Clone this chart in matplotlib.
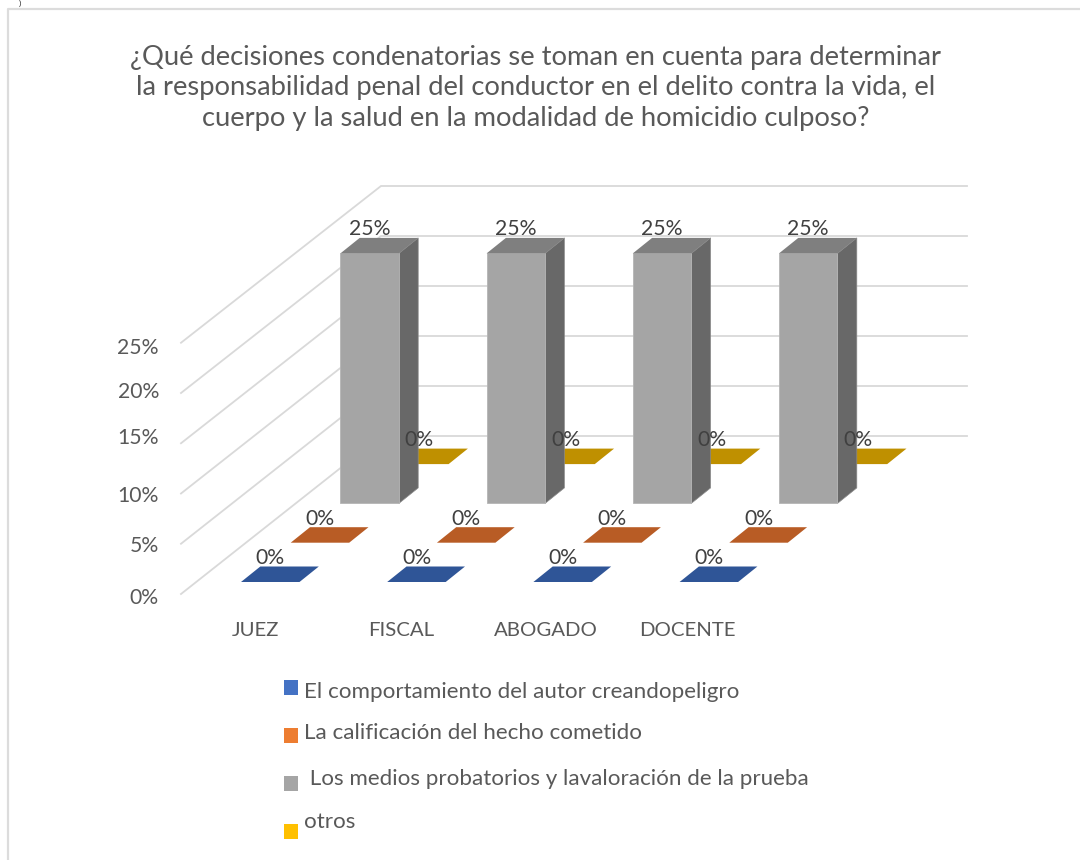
import matplotlib
matplotlib.use("Agg")
import matplotlib.pyplot as plt
from matplotlib.patches import Polygon, Rectangle

categories = ["JUEZ", "FISCAL", "ABOGADO", "DOCENTE"]
series_names = ["El comportamiento del autor creandopeligro",
                "La calificación del hecho cometido",
                " Los medios probatorios y lavaloración de la prueba",
                "otros"]
comportamiento = [0, 0, 0, 0]
calificacion = [0, 0, 0, 0]
medios = [25, 25, 25, 25]
otros = [0, 0, 0, 0]
all_series = [comportamiento, calificacion, medios, otros]
y_ticks = [0, 5, 10, 15, 20, 25]
title = ("¿Qué decisiones condenatorias se toman en cuenta para determinar\n"
         "la responsabilidad penal del conductor en el delito contra la vida, el\n"
         "cuerpo y la salud en la modalidad de homicidio culposo?")

# styles
FONT = "Lato"
front_cols = ["#2F5597", "#B85C25", "#A5A5A5", "#BF9000"]
side_cols = ["#26477E", "#9A4C1E", "#686868", "#9F7800"]
top_cols = ["#2F5597", "#B85C25", "#7F7F7F", "#BF9000"]
legend_cols = ["#4472C4", "#ED7D31", "#A5A5A5", "#FFC000"]
GRID = "#D9D9D9"
TXT = "#595959"
LBL = "#404040"

# oblique projection: (category, series, value) -> pixel position
X0, Y0 = 241.0, 582.0
CAT_STEP, SER_DX, SER_DY = 146.2, 49.7, -39.3
BAR_W, DEPTH_X, DEPTH_Y = 58.5, 19.3, -15.5
PX_PER_UNIT = 10.0


def proj(cat, ser, val=0.0):
    return X0 + cat * CAT_STEP + ser * SER_DX, Y0 + ser * SER_DY - val * PX_PER_UNIT


fig = plt.figure(figsize=(10.8, 8.6), dpi=100)
ax = fig.add_axes([0, 0, 1, 1])
ax.set_xlim(0, 1080)
ax.set_ylim(860, 0)
ax.axis("off")

# outer frame (top and left visible)
ax.plot([1080, 7.5, 7.5], [8.5, 8.5, 860], color="#DCDCDC", lw=1.6, zorder=1)
ax.text(20, 3.5, ")", fontsize=6, color="#222222", family=FONT, ha="center", va="center")

ax.text(536, 88, title, ha="center", va="center", fontsize=19.7, color=TXT, family=FONT,
        linespacing=1.276, zorder=5)

# walls
for t in y_ticks:
    yf = 594 - t * 10.05
    yb = 436 - t * 10
    ax.plot([181, 381, 967], [yf, yb, yb], color=GRID, lw=1.3, zorder=1, solid_joinstyle="miter")

tick_y = [597.5, 546.5, 495.5, 437.5, 391.5, 348.5]
for t, y in zip(y_ticks, tick_y):
    ax.text(159, y, f"{t}%", ha="right", va="center", fontsize=15.2, color=TXT, family=FONT)

# bars, back to front
for s in range(3, -1, -1):
    for c, v in enumerate(all_series[s]):
        x, yb = proj(c, s)
        _, yt = proj(c, s, v)
        if v > 0:
            ax.add_patch(Polygon([(x + BAR_W, yb), (x + BAR_W + DEPTH_X, yb + DEPTH_Y),
                                  (x + BAR_W + DEPTH_X, yt + DEPTH_Y), (x + BAR_W, yt)],
                                 fc=side_cols[s], ec="#8A8A8A", lw=0.5, zorder=3))
            ax.add_patch(Rectangle((x, yt), BAR_W, yb - yt, fc=front_cols[s],
                                   ec="#B5B5B5", lw=0.6, zorder=3))
        ax.add_patch(Polygon([(x, yt), (x + BAR_W, yt), (x + BAR_W + DEPTH_X, yt + DEPTH_Y),
                              (x + DEPTH_X, yt + DEPTH_Y)],
                             fc=top_cols[s], ec="none", zorder=3))
        ax.text(x + BAR_W / 2, yt - 24, f"{v}%", ha="center", va="center", fontsize=15.2,
                color=LBL, family=FONT, zorder=6)

# category labels
cat_x = [255, 401, 546, 687]
for name, x in zip(categories, cat_x):
    ax.text(x, 630, name, ha="center", va="center", fontsize=14.7, color=TXT, family=FONT)

# legend
swatch_y = [680, 728, 776, 824]
text_y = [692, 733, 779, 822]
for name, col, sy, ty in zip(series_names, legend_cols, swatch_y, text_y):
    ax.add_patch(Rectangle((284, sy), 13.5, 15, fc=col, ec="none"))
    ax.text(304, ty, name, ha="left", va="center", fontsize=16.15, color=TXT, family=FONT)

fig.savefig("out.png", dpi=100)
